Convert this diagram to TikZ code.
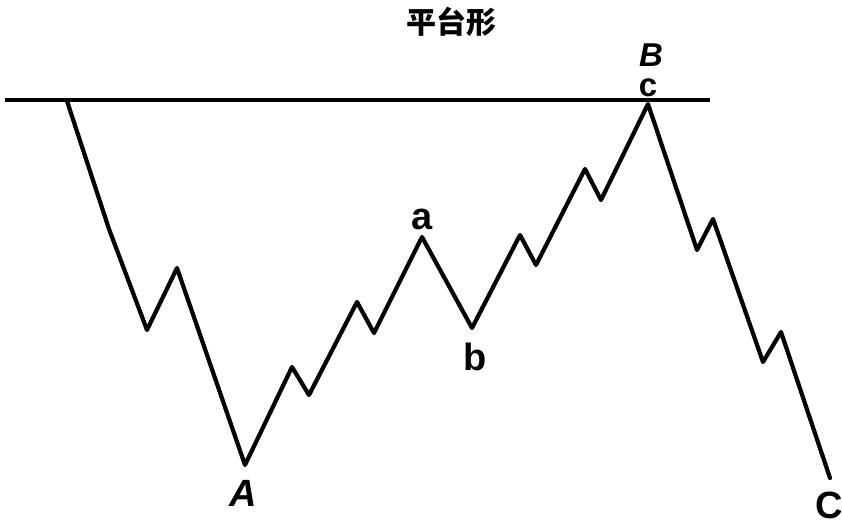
\documentclass[tikz,border=0pt]{standalone}
\usepackage{fontspec}
\setmainfont{Liberation Sans}
\newfontfamily\cjk{Noto Sans CJK SC}

\begin{document}
\begin{tikzpicture}[x=1pt,y=-1pt]
    % 设置样式
    \tikzset{
        wave/.style={line width=4.2pt, line join=round, line cap=round},
        topline/.style={line width=3.2pt},
        lbl/.style={font=\fontsize{38}{38}\selectfont\bfseries, inner sep=0pt},
        small lbl/.style={lbl, font=\fontsize{33}{33}\selectfont\bfseries},
    }

    % 边界
    \path[use as bounding box] (0,0) rectangle (842,525);

    % 标题
    \node[font=\cjk\fontsize{30}{30}\selectfont\bfseries, inner sep=0pt] (title) at (451,22) {平台形};

    % 上边水平线
    \coordinate (h0) at (5,100);
    \coordinate (h1) at (710,100);
    \draw[topline] (h0) -- (h1);

    % 折线的拐点
    \foreach \n/\x/\y in {0/67/101, 1/109/229, 2/147/330, 3/177/268, 4/245/465,
        5/292/367, 6/309/395, 7/357/302, 8/374/333, 9/422/237, 10/472/328,
        11/520/235, 12/536/265, 13/585/169, 14/601/200, 15/648/104,
        16/697/250, 17/713/219, 18/763/362, 19/781/332, 20/830/478} {
        \coordinate (p\n) at (\x,\y);
    }

    % 绘制折线
    \draw[wave] (p0) -- (p1) -- (p2) -- (p3) -- (p4) -- (p5) -- (p6) -- (p7)
        -- (p8) -- (p9) -- (p10) -- (p11) -- (p12) -- (p13) -- (p14) -- (p15)
        -- (p16) -- (p17) -- (p18) -- (p19) -- (p20);

    % 标注
    \node[lbl] (lA) at (243,493) {\itshape A};
    \node[lbl] (la) at (422,219) {a};
    \node[lbl] (lb) at (475,357) {b};
    \node[small lbl] (lB) at (651,55) {\itshape B};
    \node[small lbl] (lc) at (648,88) {c};
    \node[lbl] (lC) at (829,505) {C};
\end{tikzpicture}
\end{document}
